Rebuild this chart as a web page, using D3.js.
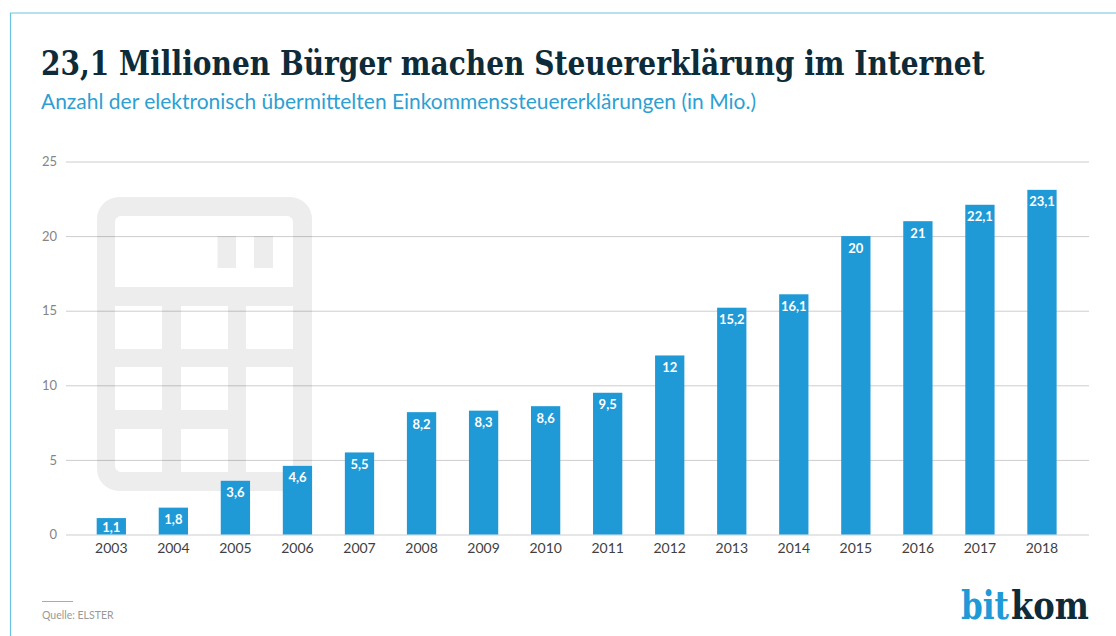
<!DOCTYPE html>
<html>
<head>
<meta charset="utf-8">
<script src="https://cdn.jsdelivr.net/npm/d3@7"></script>
<style>
  html, body { margin: 0; padding: 0; background: #fff; }
  svg { display: block; }
  text { font-family: "Lato", "Open Sans", sans-serif; }
</style>
</head>
<body>
<div id="chart"></div>
<script>
const years = ['2003', '2004', '2005', '2006', '2007', '2008', '2009', '2010', '2011', '2012', '2013', '2014', '2015', '2016', '2017', '2018'];
const values = [1.1, 1.8, 3.6, 4.6, 5.5, 8.2, 8.3, 8.6, 9.5, 12, 15.2, 16.1, 20, 21, 22.1, 23.1];
const yTicks = [0, 5, 10, 15, 20, 25];

const width = 1116;
const height = 636;
const blue = '#1f9ad6';
const dark = '#0d2b38';

const svg = d3.select('#chart').append('svg')
  .attr('width', width)
  .attr('height', height);

// squeezes a serif text horizontally to the width it has in the picture
function serifText(str, left, baseline, size, targetWidth, color) {
  const t = svg.append('text')
    .attr('font-size', size)
    .attr('font-weight', 700)
    .attr('fill', color)
    .style('font-family', '"DejaVu Serif", serif')
    .text(str);
  const scaleX = targetWidth / t.node().getComputedTextLength();
  t.attr('transform', `translate(${left},${baseline}) scale(${scaleX},1)`);
  return t;
}

// frame, only top and left are visible
svg.append('path')
  .attr('d', `M10.5,${height}V13H${width}`)
  .attr('fill', 'none')
  .attr('stroke', '#6cc3e4')
  .attr('stroke-width', 1.2);

serifText('23,1 Millionen Bürger machen Steuererklärung im Internet', 41, 75, 33.5, 944, dark);

svg.append('text')
  .attr('x', 41)
  .attr('y', 109)
  .attr('font-size', 20.5)
  .attr('fill', '#2d9fd3')
  .attr('textLength', 715)
  .attr('lengthAdjust', 'spacingAndGlyphs')
  .text('Anzahl der elektronisch übermittelten Einkommenssteuererklärungen (in Mio.)');

// calculator icon behind the chart
let icon = 'M119,197H290a22,22 0 0 1 22,22V469a22,22 0 0 1 -22,22H119a22,22 0 0 1 -22,-22V219a22,22 0 0 1 22,-22Z';
icon += 'M121,216H287a6,6 0 0 1 6,6V287H115V222a6,6 0 0 1 6,-6Z';
icon += 'M115,306H162V349H115ZM181,306H228V349H181ZM246,306H293V349H246Z';
icon += 'M115,367H162V410H115ZM181,367H228V410H181Z';
icon += 'M115,429H162V472H121a6,6 0 0 1 -6,-6ZM181,429H228V472H181Z';
icon += 'M246,367H293V466a6,6 0 0 1 -6,6H246Z';
icon += 'M217.5,236H236V268H217.5ZM254,236H273V268H254Z';
svg.append('path')
  .attr('d', icon)
  .attr('fill', '#ededed')
  .attr('fill-rule', 'evenodd');

const x = d3.scaleBand()
  .domain(years)
  .range([80.3, 1073])
  .paddingInner(0.528)
  .paddingOuter(0.264);

const y = d3.scaleLinear()
  .domain([0, 25])
  .range([534.5, 161.5]);

const gridX0 = 66;
const gridX1 = 1089;

const yAxis = svg.append('g')
  .attr('transform', `translate(${gridX0},0)`)
  .call(d3.axisLeft(y).tickValues(yTicks).tickSize(-(gridX1 - gridX0)).tickPadding(9));
yAxis.select('.domain').remove();
yAxis.selectAll('line').attr('stroke', '#000').attr('stroke-opacity', 0.2).attr('stroke-width', 1);
yAxis.selectAll('text')
  .attr('font-size', 13)
  .attr('fill', '#858585');

const xAxis = svg.append('g')
  .attr('transform', 'translate(0,534.5)')
  .call(d3.axisBottom(x).tickSize(0).tickPadding(9));
xAxis.select('.domain').remove();
xAxis.selectAll('text')
  .attr('font-size', 14)
  .attr('fill', '#3f3f3f');

svg.selectAll('.bar')
  .data(values)
  .enter().append('rect')
  .attr('class', 'bar')
  .attr('x', (d, i) => x(years[i]))
  .attr('y', d => y(d))
  .attr('width', x.bandwidth())
  .attr('height', d => y(0) - y(d))
  .attr('fill', blue);

svg.selectAll('.bar-label')
  .data(values)
  .enter().append('text')
  .attr('class', 'bar-label')
  .attr('x', (d, i) => x(years[i]) + x.bandwidth() / 2)
  .attr('y', d => Math.min(y(d) + 16.5, y(0) - 3))
  .attr('text-anchor', 'middle')
  .attr('font-size', 13)
  .attr('font-weight', 700)
  .attr('fill', '#fff')
  .text(d => String(d).replace('.', ','));

// source note
svg.append('line')
  .attr('x1', 42).attr('x2', 73)
  .attr('y1', 601.5).attr('y2', 601.5)
  .attr('stroke', '#aaa');

svg.append('text')
  .attr('x', 42)
  .attr('y', 619)
  .attr('font-size', 10.5)
  .attr('fill', '#999')
  .text('Quelle: ELSTER');

// logo
serifText('bit', 961, 619, 39, 48, blue);
serifText('kom', 1011, 619, 39, 78, dark);
</script>
</body>
</html>
